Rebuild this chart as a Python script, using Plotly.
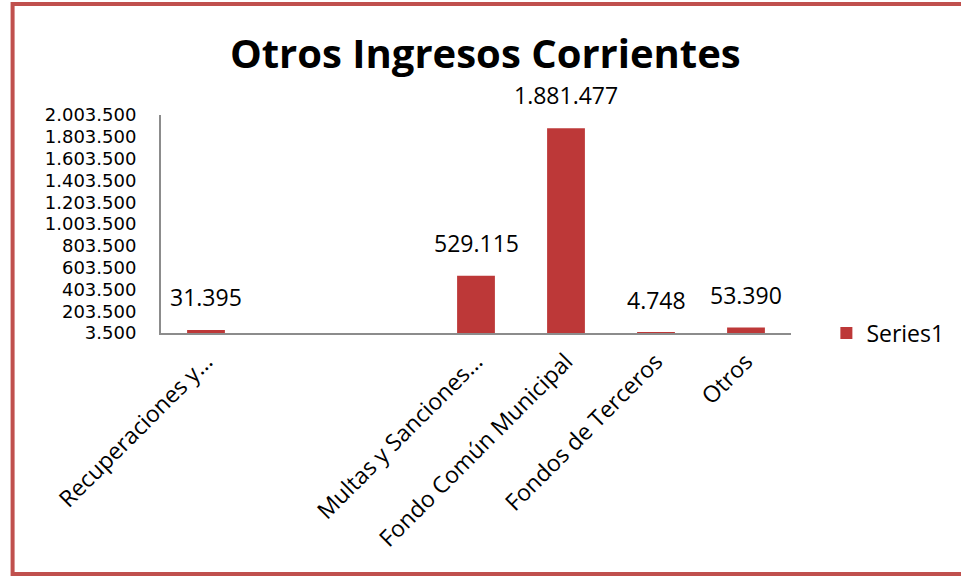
import plotly.graph_objects as go

# Chart data
categories = ["Recuperaciones y...", "", "", "Multas y Sanciones...",
              "Fondo Común Municipal", "Fondos de Terceros", "Otros"]
values = [31395, None, None, 529115, 1881477, 4748, 53390]
y_ticks = [3500, 203500, 403500, 603500, 803500, 1003500,
           1203500, 1403500, 1603500, 1803500, 2003500]
series_name = "Series1"

# page pixels of the plot area (body margin is removed in post_script)
W, H = 961, 577
L, R, T, B = 161, 802, 115, 333
FONT = "Open Sans"
BAR_RED = "#bd3838"
BORDER = "#c0504d"


def px_x(x):
    # page pixel -> paper x
    return (x - L) / (R - L)


def px_y(y):
    # page pixel -> paper y
    return (B - y) / (B - T)


def fmt(v):
    return f"{v:,}".replace(",", ".")


xs = list(range(len(categories)))

fig = go.Figure()

fig.add_trace(go.Bar(
    x=xs,
    y=values,
    name=series_name,
    width=0.42,
    marker=dict(color=BAR_RED, line=dict(width=0)),
    showlegend=True,
))

# data labels above the bars
for x, v in zip(xs, values):
    if v is None:
        continue
    fig.add_annotation(
        x=x, y=v, text=fmt(v), showarrow=False,
        yanchor="bottom", yshift=15,
        font=dict(family=FONT, size=23, color="black"),
    )

# red outer frame of the chart object
fig.add_shape(
    type="rect", xref="paper", yref="paper",
    x0=px_x(10), x1=px_x(990), y0=px_y(574), y1=px_y(4),
    line=dict(color=BORDER, width=4), fillcolor="rgba(0,0,0,0)",
    layer="above",
)

fig.update_layout(
    width=W, height=H,
    margin=dict(l=L, r=W - R, t=T, b=H - B, pad=0),
    paper_bgcolor="white",
    plot_bgcolor="white",
    separators=",.",
    title=dict(
        text="<b>Otros Ingresos Corrientes</b>",
        x=px_x(491), xref="paper", xanchor="center",
        y=1 - 54 / H, yref="container", yanchor="middle",
        font=dict(family=FONT, size=40, color="black"),
    ),
    xaxis=dict(
        range=[-0.5, len(categories) - 0.5],
        tickvals=xs, ticktext=categories,
        tickangle=-45,
        tickfont=dict(family=FONT, size=23, color="black"),
        showgrid=False, zeroline=False,
        showline=True, linecolor="#8c8c8c", linewidth=2,
        ticks="", ticklabelstandoff=4,
    ),
    yaxis=dict(
        range=[y_ticks[0], y_ticks[-1]],
        tickvals=y_ticks,
        tickformat=",.0f",
        tickfont=dict(family="DejaVu Sans", size=18, color="black"),
        showgrid=False, zeroline=False,
        showline=True, linecolor="#8c8c8c", linewidth=2,
        ticks="", ticklabelstandoff=19,
    ),
    legend=dict(
        x=px_x(838), y=0, xanchor="left", yanchor="middle",
        font=dict(family=FONT, size=23, color="black"),
        bgcolor="rgba(0,0,0,0)",
    ),
)

fig.write_html(
    "out.html",
    config={"displayModeBar": False},
    post_script="document.body.style.margin='0';",
)
